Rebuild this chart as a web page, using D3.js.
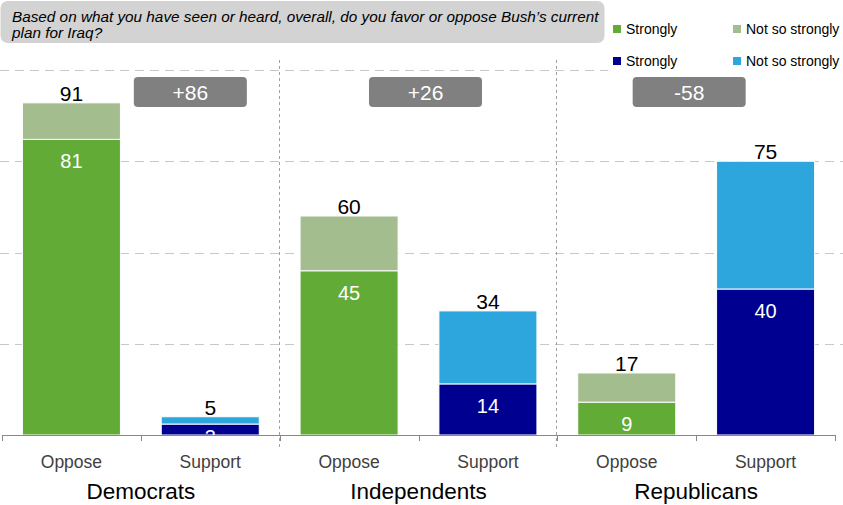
<!DOCTYPE html>
<html>
<head>
<meta charset="utf-8">
<script src="https://cdn.jsdelivr.net/npm/d3@7"></script>
<style>
  html, body { margin: 0; padding: 0; background: #fff; }
  svg { display: block; font-family: "Liberation Sans", Arial, sans-serif; }
</style>
</head>
<body>
<svg id="chart" width="843" height="505"></svg>
<script>
// ---- data ----
const groups = ["Democrats", "Independents", "Republicans"];
const responses = ["Oppose", "Support"];
const strongly = [81, 3, 45, 14, 9, 40];
const notSoStrongly = [10, 2, 15, 20, 8, 35];
const totals = [91, 5, 60, 34, 17, 75];
const netLabels = ["+86", "+26", "-58"];
const yTicks = [0, 25, 50, 75, 100];
const questionLines = [
  "Based on what you have seen or heard, overall, do you favor or oppose Bush\u2019s current",
  "plan for Iraq?"
];
const legendItems = [
  { label: "Strongly", key: "opS" },
  { label: "Not so strongly", key: "opN" },
  { label: "Strongly", key: "suS" },
  { label: "Not so strongly", key: "suN" }
];

// ---- styles ----
const colors = { opS: "#62AB37", opN: "#A3BD8F", suS: "#000090", suN: "#2CA6DC" };
const badgeOffsets = [49.5, 7, -7]; // badge center offset from group center

const svg = d3.select("#chart");
const left = 2, right = 835, baseY = 435, topY = 70;

const cats = [];
groups.forEach((g, gi) => responses.forEach((r, ri) => cats.push({ g, r, gi, ri, id: g + "|" + r })));
cats.forEach((c, i) => {
  c.strong = strongly[i];
  c.notSo = notSoStrongly[i];
  c.total = totals[i];
});

const x = d3.scaleBand().domain(cats.map(c => c.id)).range([left, right]).paddingInner(0.294).paddingOuter(0.147);
const xg = d3.scaleBand().domain(groups).range([left, right]);
const y = d3.scaleLinear().domain([0, 100]).range([baseY, topY]);

// gridlines
svg.append("g").selectAll("line").data(yTicks.filter(t => t > 0)).join("line")
  .attr("x1", 0).attr("x2", 843)
  .attr("y1", d => Math.round(y(d)) + 0.5).attr("y2", d => Math.round(y(d)) + 0.5)
  .attr("stroke", "#c8c8c8").attr("stroke-width", 1).attr("stroke-dasharray", "9,6");

// group separators
svg.append("g").selectAll("line").data(groups.slice(1)).join("line")
  .attr("x1", d => Math.round(xg(d)) - 0.5).attr("x2", d => Math.round(xg(d)) - 0.5)
  .attr("y1", 60).attr("y2", 450)
  .attr("stroke", "#a0a0a0").attr("stroke-width", 1).attr("stroke-dasharray", "3,3");

// bars
svg.append("clipPath").attr("id", "plotclip").append("rect")
  .attr("x", 0).attr("y", 0).attr("width", 843).attr("height", baseY);

const barG = svg.append("g").attr("clip-path", "url(#plotclip)");
const catG = barG.selectAll("g.cat").data(cats).join("g").attr("class", "cat");

catG.append("rect")
  .attr("x", d => x(d.id)).attr("width", x.bandwidth())
  .attr("y", d => y(d.strong)).attr("height", d => y(0) - y(d.strong))
  .attr("fill", d => d.ri === 0 ? colors.opS : colors.suS)
  .attr("stroke", "#fff").attr("stroke-width", 1);
catG.append("rect")
  .attr("x", d => x(d.id)).attr("width", x.bandwidth())
  .attr("y", d => y(d.total)).attr("height", d => y(d.strong) - y(d.total))
  .attr("fill", d => d.ri === 0 ? colors.opN : colors.suN)
  .attr("stroke", "#fff").attr("stroke-width", 1);

// inner labels (clipped at the baseline like the original)
catG.append("text")
  .attr("x", d => x(d.id) + x.bandwidth() / 2)
  .attr("y", d => Math.min(y(d.strong) + 29, baseY + 9))
  .attr("text-anchor", "middle").attr("font-size", 20).attr("fill", "#fff")
  .text(d => d.strong);

// total labels
svg.append("g").selectAll("text").data(cats).join("text")
  .attr("x", d => x(d.id) + x.bandwidth() / 2)
  .attr("y", d => y(d.total) - 2)
  .attr("text-anchor", "middle").attr("font-size", 21).attr("fill", "#000")
  .text(d => d.total);

// axis
const axis = d3.axisBottom(x).tickSize(0).tickFormat(d => d.split("|")[1]);
const axG = svg.append("g").attr("transform", `translate(0,${baseY})`).call(axis);
axG.select(".domain").attr("stroke", "#888").attr("d", `M${left},0.5H${right}`);
axG.selectAll("text").attr("font-size", 17.5).attr("fill", "#404040").attr("dy", 0).attr("y", 33)
  .attr("font-family", "Liberation Sans, Arial, sans-serif");
// boundary ticks
const bounds = d3.range(cats.length + 1).map(i => left + i * x.step());
svg.append("g").selectAll("line").data(bounds).join("line")
  .attr("x1", d => Math.round(d) + 0.5).attr("x2", d => Math.round(d) + 0.5)
  .attr("y1", baseY).attr("y2", baseY + 6).attr("stroke", "#888");

// group labels
svg.append("g").selectAll("text").data(groups).join("text")
  .attr("x", d => xg(d) + xg.bandwidth() / 2).attr("y", 499)
  .attr("text-anchor", "middle").attr("font-size", 22.5).attr("fill", "#000")
  .text(d => d);

// badges
const badge = svg.append("g").selectAll("g").data(groups).join("g")
  .attr("transform", (d, i) => `translate(${xg(d) + xg.bandwidth() / 2 + badgeOffsets[i]},92)`);
badge.append("rect").attr("x", -56.5).attr("y", -15).attr("width", 113).attr("height", 30)
  .attr("rx", 4).attr("fill", "#808080");
badge.append("text").attr("y", 7.5).attr("text-anchor", "middle").attr("font-size", 21)
  .attr("fill", "#fff").text((d, i) => netLabels[i]);

// question box
svg.append("rect").attr("x", 0.5).attr("y", 1).attr("width", 604).attr("height", 42)
  .attr("rx", 7).attr("fill", "#d3d3d3");
svg.append("g").selectAll("text").data(questionLines).join("text")
  .attr("x", 12).attr("y", (d, i) => 22 + i * 16)
  .attr("font-size", 15.3).attr("font-style", "italic").attr("fill", "#000")
  .text(d => d);

// legend
const lg = svg.append("g");
lg.append("rect").attr("x", 608).attr("y", 0).attr("width", 235).attr("height", 73).attr("fill", "#fff");
const li = lg.selectAll("g").data(legendItems).join("g")
  .attr("transform", (d, i) => `translate(${i % 2 === 0 ? 613 : 733},${i < 2 ? 29 : 61})`);
li.append("rect").attr("x", 0).attr("y", -4).attr("width", 8).attr("height", 8)
  .attr("fill", d => colors[d.key]);
li.append("text").attr("x", 13).attr("y", 5).attr("font-size", 14).attr("fill", "#000")
  .text(d => d.label);
</script>
</body>
</html>
